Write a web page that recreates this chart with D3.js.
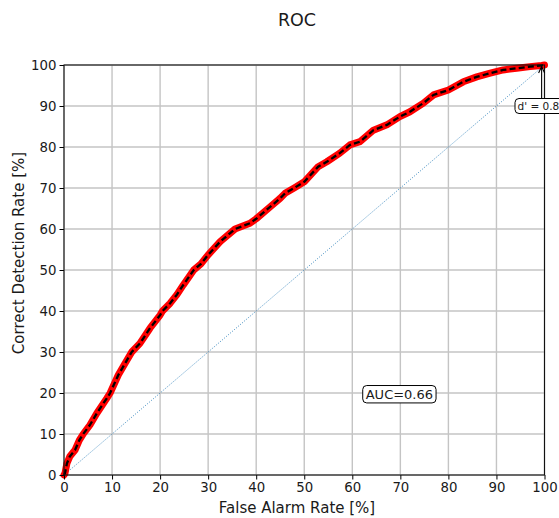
<!DOCTYPE html>
<html><head><meta charset="utf-8">
<script src="https://cdn.jsdelivr.net/npm/d3@7"></script>
<style>body{margin:0;background:#fff}svg{display:block;font-family:"DejaVu Sans",sans-serif}</style>
</head><body><svg id="c" width="559" height="518"></svg>
<script>
const fpr = [0,0.2,0.6,1.2,2.3,3.2,4.0,5.4,6.8,8.9,9.6,11.3,12.6,14.1,15.8,17.9,20,20.5,22.1,23.5,24.8,27,28.5,30,32.5,35.6,38.7,40,42.9,45,46,47.9,50,52.9,54.7,57.4,59.5,61.6,64.4,67.2,69.9,72,74.8,76.9,80,83.1,85.9,88.7,91.4,94.2,97,99.4,100];
const tpr = [0,0.4,2.8,4.5,6.1,8.5,10,12.2,15,18.7,20,24.4,27,30,32.1,35.8,39,40,41.9,44,46.3,50,51.5,53.7,56.9,60,61.4,62.5,65.4,67.5,68.7,70,71.5,75.2,76.4,78.5,80.5,81.3,84.1,85.4,87.4,88.6,90.7,92.7,93.9,95.9,97.1,98,98.8,99.2,99.6,99.9,100];
const ticks = [0,10,20,30,40,50,60,70,80,90,100];
const chanceLine = [0,100];
const title = "ROC";
const xLabel = "False Alarm Rate [%]";
const yLabel = "Correct Detection Rate [%]";
const aucText = "AUC=0.66";
const dprimeText = "d' = 0.8";

const svg = d3.select("#c");
const L = 64, R = 544.5, T = 65, B = 475;
const x = d3.scaleLinear().domain([0,100]).range([L,R]);
const y = d3.scaleLinear().domain([0,100]).range([B,T]);

// grid
const g = svg.append("g");
g.selectAll(".gx").data(ticks).join("line")
  .attr("x1", d=>x(d)).attr("x2", d=>x(d)).attr("y1", T).attr("y2", B)
  .attr("stroke", "#c4c4c4").attr("stroke-width", 1.4);
g.selectAll(".gy").data(ticks).join("line")
  .attr("y1", d=>y(d)).attr("y2", d=>y(d)).attr("x1", L).attr("x2", R)
  .attr("stroke", "#c4c4c4").attr("stroke-width", 1.4);

// chance diagonal
svg.append("line")
  .attr("x1", x(chanceLine[0])).attr("y1", y(chanceLine[0]))
  .attr("x2", x(chanceLine[1])).attr("y2", y(chanceLine[1]))
  .attr("stroke", "#1f77b4").attr("stroke-opacity", 0.85).attr("stroke-width", 1)
  .attr("stroke-dasharray", "1,1.6");

const pts = fpr.map((f,i)=>[f,tpr[i]]);
const line = d3.line().x(d=>x(d[0])).y(d=>y(d[1])).curve(d3.curveLinear);
svg.append("path").attr("d", line(pts)).attr("fill","none")
  .attr("stroke","#ff0000").attr("stroke-width",7).attr("stroke-linejoin","round").attr("stroke-linecap","round");
svg.append("path").attr("d", line(pts)).attr("fill","none")
  .attr("stroke","#000").attr("stroke-width",2.3).attr("stroke-dasharray","6,3.2");

// axes
const xa = svg.append("g").attr("transform",`translate(0,${B})`)
  .call(d3.axisBottom(x).tickValues(ticks).tickSize(4.5).tickPadding(3).tickFormat(d3.format("d")));
const ya = svg.append("g").attr("transform",`translate(${L},0)`)
  .call(d3.axisLeft(y).tickValues(ticks).tickSize(4.5).tickPadding(3).tickFormat(d3.format("d")));
[xa,ya].forEach(a=>{
  a.select(".domain").remove();
  a.selectAll("text").attr("font-size",13.3).attr("fill","#1a1a1a").attr("font-family","DejaVu Sans");
  a.selectAll("line").attr("stroke","#000").attr("stroke-width",1);
});
// spines
svg.append("rect").attr("x",L).attr("y",T).attr("width",R-L).attr("height",B-T)
  .attr("fill","none").attr("stroke","#111").attr("stroke-width",1.1);

// title & labels
svg.append("text").attr("x",297).attr("y",26).attr("text-anchor","middle")
  .attr("font-size",17.5).attr("fill","#1a1a1a").text(title);
svg.append("text").attr("x",297).attr("y",513).attr("text-anchor","middle")
  .attr("font-size",15).attr("fill","#1a1a1a").text(xLabel);
svg.append("text").attr("transform","translate(24,253) rotate(-90)").attr("text-anchor","middle")
  .attr("font-size",15).attr("fill","#1a1a1a").text(yLabel);

// AUC box
const ax = x(69.8), ay = y(19.7);
const aucG = svg.append("g");
const aucRect = aucG.append("rect");
const at = aucG.append("text").attr("x",ax).attr("y",ay+4.6).attr("text-anchor","middle")
  .attr("font-size",13).attr("fill","#1a1a1a").text(aucText);
const bb = at.node().getBBox();
aucRect.attr("x",bb.x-3).attr("y",ay-8.7).attr("width",bb.width+6).attr("height",17.4)
  .attr("rx",4).attr("fill","#fff").attr("stroke","#000").attr("stroke-width",1);

// d' annotation
const arrowX = x(99.4);
svg.append("line").attr("x1",arrowX).attr("y1",98.5).attr("x2",arrowX).attr("y2",y(100)+1.5)
  .attr("stroke","#000").attr("stroke-width",1.1);
svg.append("path").attr("d",`M${arrowX-3},${y(100)+8} L${arrowX},${y(100)+1.5} L${arrowX+3},${y(100)+8}`)
  .attr("fill","none").attr("stroke","#000").attr("stroke-width",1.1);
svg.append("rect").attr("x",515).attr("y",98.5).attr("width",70).attr("height",15)
  .attr("rx",4).attr("fill","#fff").attr("stroke","#000").attr("stroke-width",1);
svg.append("text").attr("x",517.5).attr("y",109.8).attr("font-size",10.5).attr("fill","#1a1a1a").text(dprimeText);
</script></body></html>
